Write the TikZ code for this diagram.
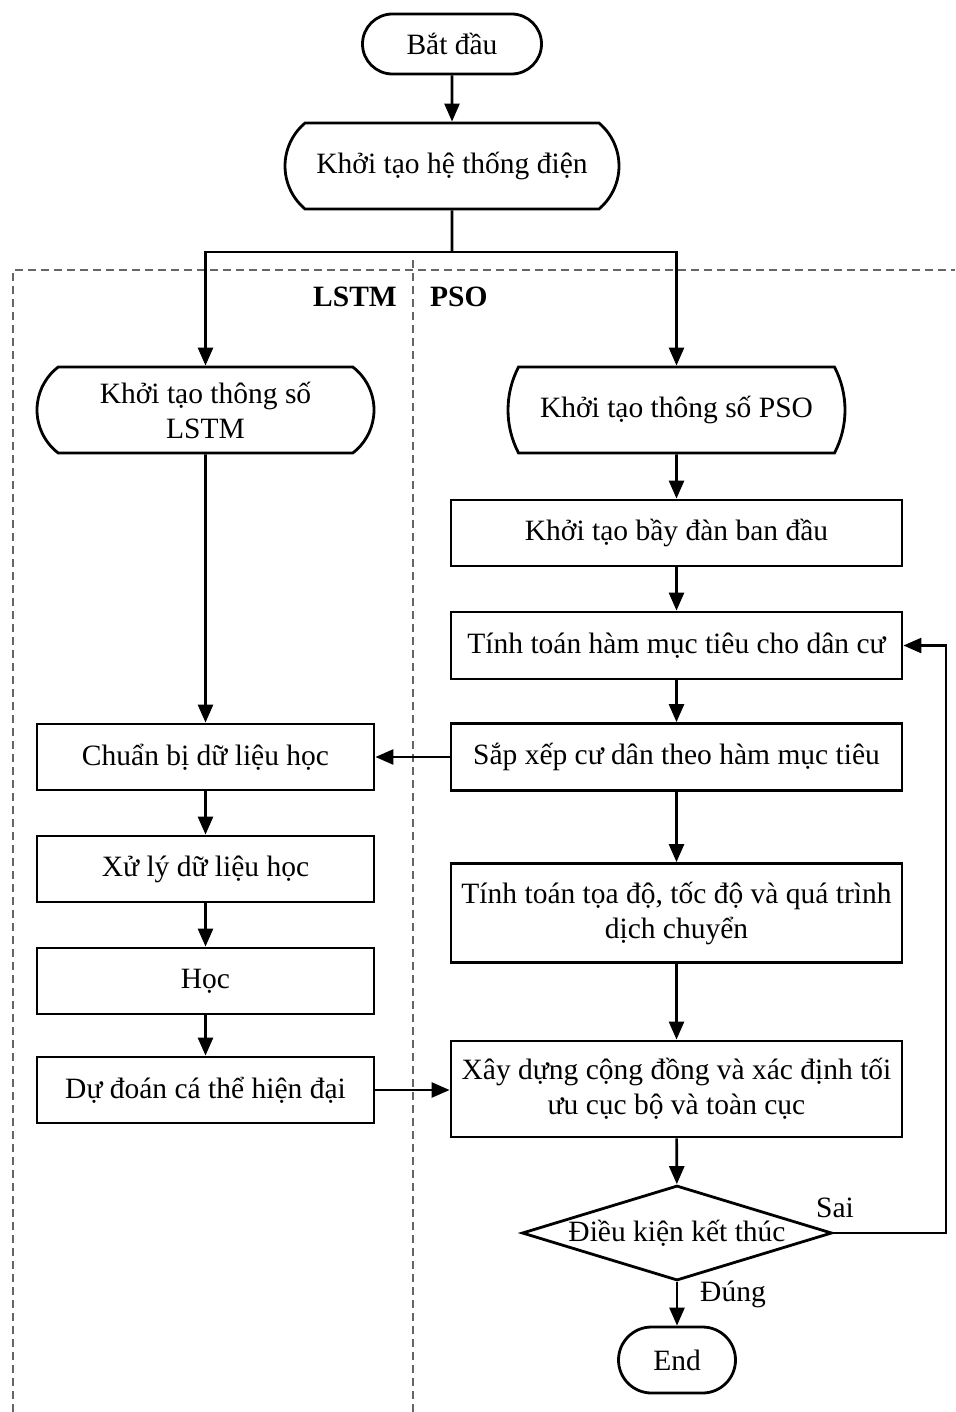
\documentclass[tikz,border=0pt]{standalone}
\usepackage{fontspec}
\setmainfont{Liberation Serif}
\usetikzlibrary{arrows.meta,shapes.misc,shapes.geometric}
\begin{document}
\begin{tikzpicture}[x=1pt,y=-1pt,
  every node/.style={font=\fontsize{29.5}{35}\selectfont, inner sep=0pt, align=center},
  box/.style={draw, line width=2.8pt, rectangle, minimum width=#1},
  box/.default=451,
  pill/.style={draw, line width=2.8pt, rounded rectangle, minimum height=#1},
  curvebox/.style={draw, line width=2.8pt, rounded rectangle, rounded rectangle arc length=#1},
  decision/.style={draw, line width=2.8pt, diamond, aspect=3.26, text height=18pt, text depth=2pt},
  flow/.style={line width=2.6pt, -{Triangle[length=18pt,width=15pt]}},
  link/.style={line width=2.6pt},
  lane/.style={draw=black!60, line width=1.5pt, dash pattern=on 8pt off 5pt},
  tag/.style={font=\fontsize{29.5}{35}\selectfont\bfseries}
]
\useasboundingbox (0,0) rectangle (955,1412);

% swimlane frame
\draw[lane] (13,1412) -- (13,270) -- (955,270);
\draw[lane] (413,260) -- (413,1412);
\node[tag, anchor=east] (lstmtag) at (397,297) {LSTM};
\node[tag, anchor=west] (psotag) at (430,297) {PSO};

% common start
\node[pill=60, minimum width=179] (start) at (452,44) {Bắt đầu};
\node[curvebox=100, minimum width=334, minimum height=86] (init) at (452,166) {Khởi tạo hệ thống điện};
\coordinate (split) at (452,252);

% LSTM column
\node[curvebox=105, minimum width=337, minimum height=86] (lstminit) at (205.5,410) {Khởi tạo thông số\\LSTM};
\node[box=337, minimum height=66] (prep) at (205.5,757) {Chuẩn bị dữ liệu học};
\node[box=337, minimum height=66] (proc) at (205.5,869) {Xử lý dữ liệu học};
\node[box=337, minimum height=66] (learn) at (205.5,981) {Học};
\node[box=337, minimum height=66] (pred) at (205.5,1090) {Dự đoán cá thể hiện đại};

% PSO column
\node[curvebox=55, minimum width=337, minimum height=86] (psoinit) at (676.5,410) {Khởi tạo thông số PSO};
\node[box, minimum height=66] (swarm) at (676.5,533) {Khởi tạo bầy đàn ban đầu};
\node[box, minimum height=67] (fitness) at (676.5,645.5) {Tính toán hàm mục tiêu cho dân cư};
\node[box, minimum height=67] (sort) at (676.5,757) {Sắp xếp cư dân theo hàm mục tiêu};
\node[box, minimum height=99] (move) at (676.5,913) {Tính toán tọa độ, tốc độ và quá trình\\dịch chuyển};
\node[box, minimum height=96] (comm) at (676.5,1089) {Xây dựng cộng đồng và xác định tối\\ưu cục bộ và toàn cục};
\node[decision, minimum width=310, minimum height=95] (cond) at (677,1233) {Điều kiện kết thúc};
\node[pill=66, minimum width=117] (stop) at (677,1360) {End};
\coordinate (loopx) at (946,1233);

% connectors
\draw[flow] (start) -- (init);
\draw[link] (init) -- (split);
\draw[flow] (split) -| (lstminit.north);
\draw[flow] (split) -| (psoinit.north);
\draw[flow] (lstminit) -- (prep);
\draw[flow] (prep) -- (proc);
\draw[flow] (proc) -- (learn);
\draw[flow] (learn) -- (pred);
\draw[flow] (psoinit) -- (swarm);
\draw[flow] (swarm) -- (fitness);
\draw[flow] (fitness) -- (sort);
\draw[flow] (sort) -- (move);
\draw[flow] (move) -- (comm);
\draw[flow] (comm) -- (cond);
\draw[flow] (cond) -- (stop);
\draw[flow] (sort.west) -- (prep.east);
\draw[flow] (pred.east) -- (pred.east -| comm.west);
\draw[flow] (cond.east) -- (loopx) |- (fitness.east);

% branch labels
\node (sai) at (835,1208) {Sai};
\node (dung) at (733,1294) {Đúng};
\end{tikzpicture}
\end{document}
